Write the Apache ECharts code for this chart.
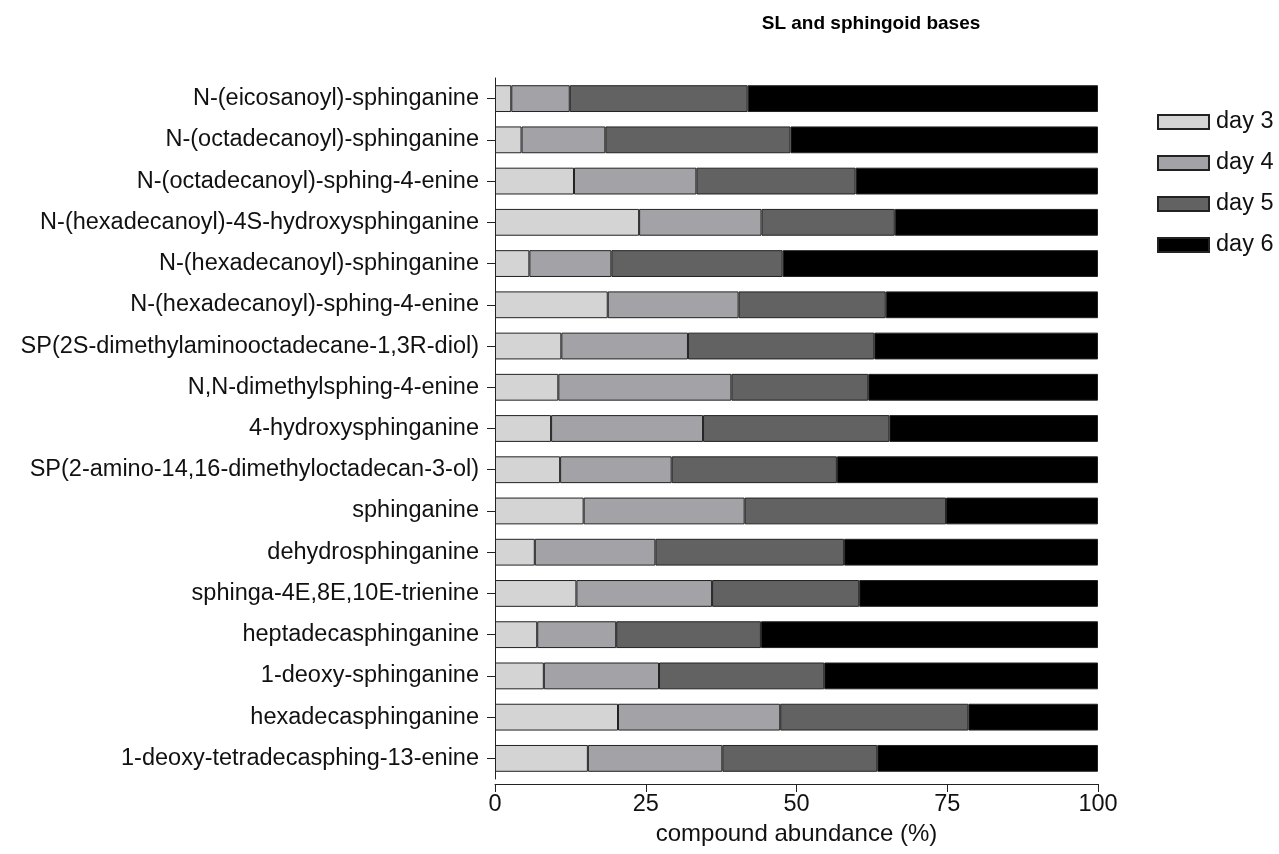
<!DOCTYPE html>
<html>
<head>
<meta charset="utf-8">
<script src="https://cdn.jsdelivr.net/npm/echarts@6/dist/echarts.min.js"></script>
<style>html,body{margin:0;padding:0;background:#fff}#c{width:1279px;height:854px}</style>
</head>
<body>
<div id="c"></div>
<script>
const categories = [
  "N-(eicosanoyl)-sphinganine",
  "N-(octadecanoyl)-sphinganine",
  "N-(octadecanoyl)-sphing-4-enine",
  "N-(hexadecanoyl)-4S-hydroxysphinganine",
  "N-(hexadecanoyl)-sphinganine",
  "N-(hexadecanoyl)-sphing-4-enine",
  "SP(2S-dimethylaminooctadecane-1,3R-diol)",
  "N,N-dimethylsphing-4-enine",
  "4-hydroxysphinganine",
  "SP(2-amino-14,16-dimethyloctadecan-3-ol)",
  "sphinganine",
  "dehydrosphinganine",
  "sphinga-4E,8E,10E-trienine",
  "heptadecasphinganine",
  "1-deoxy-sphinganine",
  "hexadecasphinganine",
  "1-deoxy-tetradecasphing-13-enine"
];
const day3 = [2.7, 4.4, 13.1, 23.9, 5.7, 18.7, 11.0, 10.5, 9.3, 10.8, 14.7, 6.6, 13.5, 7.0, 8.1, 20.4, 15.4];
const day4 = [9.7, 13.9, 20.3, 20.3, 13.6, 21.7, 21.0, 28.7, 25.2, 18.5, 26.7, 20.0, 22.5, 13.1, 19.1, 26.9, 22.3];
const day5 = [29.5, 30.7, 26.4, 22.1, 28.4, 24.4, 30.9, 22.7, 30.9, 27.4, 33.4, 31.3, 24.4, 24.0, 27.4, 31.2, 25.7];
const day6 = [58.1, 51.0, 40.2, 33.7, 52.3, 35.2, 37.1, 38.1, 34.6, 43.3, 25.2, 42.1, 39.6, 55.9, 45.4, 21.5, 36.6];
const seriesNames = ["day 3", "day 4", "day 5", "day 6"];
const xTicks = [0, 25, 50, 75, 100];

const colors = ["#d4d4d4", "#a3a3a7", "#626262", "#000000"];
const font = "Arial, 'Liberation Sans', sans-serif";
const chart = echarts.init(document.getElementById('c'));
const dataSets = [day3, day4, day5, day6];
chart.setOption({
  animation: false,
  title: {
    text: "SL and sphingoid bases",
    left: 866, top: 9, textAlign: 'center',
    textStyle: {fontFamily: font, fontWeight: 'bold', fontSize: 19, color: '#000'}
  },
  legend: {
    orient: 'vertical', left: 1157, top: 110, padding: 0,
    itemWidth: 51, itemHeight: 14, itemGap: 17,
    icon: 'rect',
    textStyle: {fontFamily: font, fontSize: 23.5, color: '#111', padding: [0,0,0,2]},
    data: seriesNames
  },
  grid: {left: 495, right: 1279 - 1098, top: 78, bottom: 854 - 779, containLabel: false},
  xAxis: {
    type: 'value', min: 0, max: 100, interval: 25, offset: 5,
    splitLine: {show: false},
    axisLine: {show: true, lineStyle: {color: '#222', width: 1}},
    axisTick: {show: true, length: 8, lineStyle: {color: '#222'}},
    axisLabel: {fontFamily: font, fontSize: 23.5, color: '#111', margin: 9,
      formatter: v => xTicks.includes(v) ? String(v) : ''},
    name: "compound abundance (%)", nameLocation: 'middle', nameGap: 35,
    nameTextStyle: {fontFamily: font, fontSize: 24, color: '#111'}
  },
  yAxis: {
    type: 'category', data: categories, inverse: true,
    axisLine: {show: true, lineStyle: {color: '#222', width: 1}},
    axisTick: {show: true, alignWithLabel: true, length: 8, lineStyle: {color: '#222'}},
    axisLabel: {fontFamily: font, fontSize: 23.5, color: '#111', margin: 16}
  },
  series: seriesNames.map((n, i) => ({
    name: n, type: 'bar', stack: 'all', data: dataSets[i],
    barWidth: '65%',
    itemStyle: {color: colors[i], borderColor: '#222', borderWidth: 1}
  }))
});
</script>
</body>
</html>
